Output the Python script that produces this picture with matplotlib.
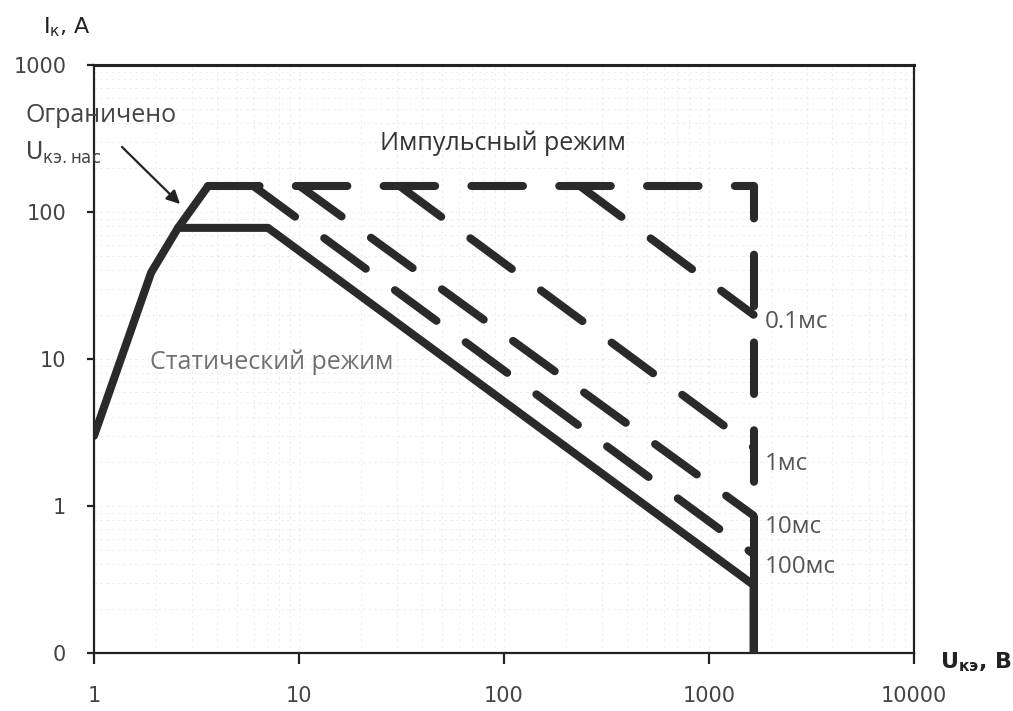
import matplotlib
matplotlib.use("Agg")
import matplotlib.pyplot as plt
import numpy as np

# --- data -----------------------------------------------------------------
x_ticks = [1, 10, 100, 1000, 10000]
x_tick_labels = ["1", "10", "100", "1000", "10000"]
y_ticks = [0.1, 1, 10, 100, 1000]
y_tick_labels = ["0", "1", "10", "100", "1000"]

# static (DC) safe operating area
static_u = [1.0, 1.9, 2.57, 7.06, 1650.0, 1650.0]
static_i = [3.0, 38.7, 78.0, 78.0, 0.29, 0.1]

# rise to the saturation-limited current
sat_u = [2.57, 3.6]
sat_i = [78.0, 150.0]

# pulse-mode boundary
u_max = 1650.0
i_max = 150.0
pulse_labels = ["0.1мс", "1мс", "10мс", "100мс"]
pulse_start_u = [235.0, 31.0, 10.1, 6.0]
pulse_end_i = [20.0, 2.5, 0.86, 0.47]

# --- figure ---------------------------------------------------------------
W, H = 1013, 711
fig = plt.figure(figsize=(W / 100, H / 100), dpi=100)
ax = fig.add_axes([94 / W, 1 - 653 / H, (914 - 94) / W, (653 - 65) / H])

ax.set_xscale("log")
ax.set_yscale("log")
ax.set_xlim(1, 10000)
ax.set_ylim(0.1, 1000)

line_color = "#2a2a2a"
lw = 5.8
dash = (6.4, 4.5)

# faint background grid
minor_x = [m * 10 ** e for e in range(0, 4) for m in range(2, 10)]
minor_y = [m * 10 ** e for e in range(-1, 3) for m in range(2, 10)]
ax.set_xticks(minor_x, minor=True)
ax.set_yticks(minor_y, minor=True)
ax.tick_params(which="minor", length=0, labelbottom=False, labelleft=False)
ax.grid(True, which="both", color="#e2e2e2", lw=0.6, ls=(0, (3, 4)), alpha=0.7)
ax.set_axisbelow(True)

# static mode
ax.plot(static_u, static_i, color=line_color, lw=lw, solid_capstyle="round",
        solid_joinstyle="round", zorder=3)
ax.plot(sat_u, sat_i, color=line_color, lw=lw, solid_capstyle="round", zorder=3)

# pulse-mode boundary: top current limit and voltage limit
ax.plot([sat_u[-1], u_max, u_max], [i_max, i_max, pulse_end_i[2]],
        color=line_color, lw=lw, dashes=dash, dash_capstyle="round",
        dash_joinstyle="round", zorder=3)
ax.plot([u_max, u_max], [pulse_end_i[2], 0.1], color=line_color, lw=lw,
        solid_capstyle="butt", zorder=3)

# constant-power lines for each pulse duration
for u0, i1 in zip(pulse_start_u, pulse_end_i):
    ax.plot([u0, u_max], [i_max, i1], color=line_color, lw=lw, dashes=dash,
            dash_capstyle="round", zorder=3)

# pulse duration labels
label_y = [17.8, 1.92, 0.72, 0.387]
txt_font = ["Open Sans", "DejaVu Sans"]
for lab, yy in zip(pulse_labels, label_y):
    ax.text(u_max * 1.14, yy, lab, ha="left", va="center", fontsize=17.5,
            color="#555555", family=txt_font)

ax.text(24.8, 292, "Импульсный режим", ha="left", va="center", fontsize=18,
        color="#333333", family=txt_font)
ax.text(1.88, 9.55, "Статический режим", ha="left", va="center", fontsize=18,
        color="#707070", family=txt_font)

# axes styling
for side in ["left", "bottom", "top", "right"]:
    ax.spines[side].set_color("#222222")
    ax.spines[side].set_linewidth(1.6)
ax.spines["top"].set_linewidth(2.2)

ax.set_xticks(x_ticks)
ax.set_xticklabels(x_tick_labels)
ax.set_yticks(y_ticks)
ax.set_yticklabels(y_tick_labels)
ax.tick_params(axis="x", which="major", direction="out", length=8, width=1.6,
               pad=16, labelsize=15, labelcolor="#444444", color="#222222")
ax.tick_params(axis="y", which="major", direction="out", length=5, width=1.6,
               pad=15, labelsize=15, labelcolor="#444444", color="#222222")
for t in ax.get_xticklabels() + ax.get_yticklabels():
    t.set_family("DejaVu Sans")

# axis titles
plt.rcParams["mathtext.fontset"] = "custom"
plt.rcParams["mathtext.rm"] = "DejaVu Sans"
fig.text(43 / W, 1 - 27 / H, r"$\mathregular{I_{к}}$, A", ha="left",
         va="center", fontsize=16, color="#222222", family="DejaVu Sans")
fig.text(940 / W, 1 - 662 / H, r"$\mathregular{U_{кэ}}$, B", ha="left",
         va="center", fontsize=16, color="#222222", family="DejaVu Sans",
         weight="bold")

# saturation annotation
fig.text(25 / W, 1 - 115 / H, "Ограничено", ha="left", va="center",
         fontsize=18, color="#444444", family=txt_font)
fig.text(25 / W, 1 - 153 / H, r"$\mathregular{U_{кэ.нас}}$", ha="left",
         va="center", fontsize=17, color="#444444", family="DejaVu Sans")
fig.add_artist(matplotlib.patches.FancyArrowPatch(
    (120 / W, 1 - 145 / H), (182 / W, 1 - 206 / H),
    transform=fig.transFigure, arrowstyle="-|>", mutation_scale=20,
    lw=1.6, color="#222222"))

fig.savefig("out.png", dpi=100)
